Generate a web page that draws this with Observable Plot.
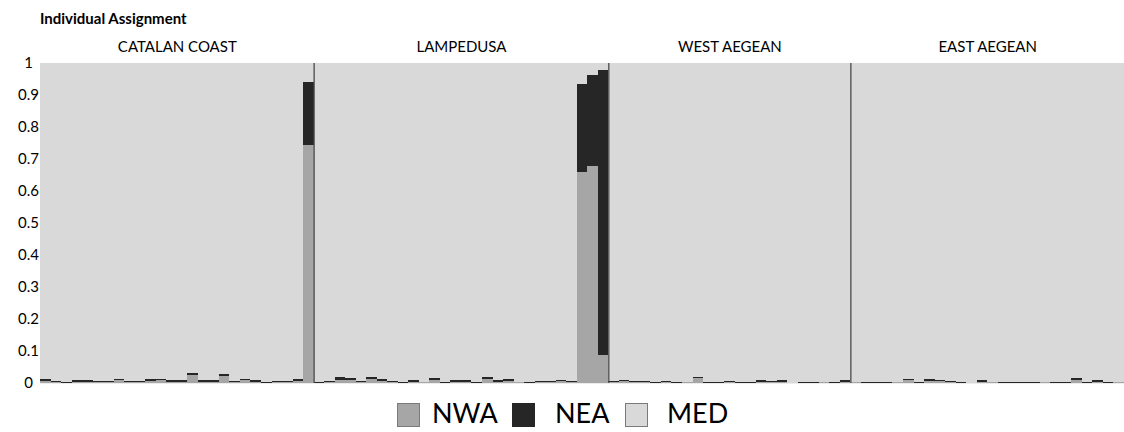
<!DOCTYPE html>
<html>
<head>
<meta charset="utf-8">
<script src="https://cdn.jsdelivr.net/npm/d3@7"></script>
<script src="https://cdn.jsdelivr.net/npm/@observablehq/plot@0.6"></script>
<style>
  html, body { margin: 0; padding: 0; background: #fff; }
  body { width: 1124px; height: 432px; position: relative; overflow: hidden; font-family: Lato, "Open Sans", sans-serif; }
  #title { position: absolute; left: 40px; top: 9px; font-size: 15px; font-weight: bold; color: #000; }
  #chart { position: absolute; left: 0; top: 0; }
  #legend { position: absolute; left: 0; top: 0; width: 1124px; height: 432px; pointer-events: none; }
  .sw { position: absolute; top: 403px; width: 21px; height: 22px; border: 1px solid #7a7a7a; }
  .lab { position: absolute; top: 397px; font-size: 27px; color: #000; line-height: 32px; }
</style>
</head>
<body>
<div id="chart"></div>
<div id="title">Individual Assignment</div>
<div id="legend">
  <div class="sw" style="left:397px; background:#a6a6a6;"></div>
  <div class="lab" style="left:432px;">NWA</div>
  <div class="sw" style="left:512px; background:#262626; border-color:#262626;"></div>
  <div class="lab" style="left:555px;">NEA</div>
  <div class="sw" style="left:625px; background:#d9d9d9;"></div>
  <div class="lab" style="left:667px;">MED</div>
</div>
<script>
// ---- Data (ancestry proportions per individual) ----
const populations = ["CATALAN COAST", "LAMPEDUSA", "WEST AEGEAN", "EAST AEGEAN"];
const clusters = ["NWA", "NEA", "MED"];
const clusterColors = ["#a6a6a6", "#262626", "#d9d9d9"];

const catalanNWA = [0.006,0.003,0.001,0.004,0.004,0.003,0.002,0.009,0.003,0.003,0.007,0.008,0.004,0.004,0.025,0.004,0.004,0.021,0.002,0.008,0.004,0.001,0.002,0.002,0.007,0.745];
const catalanNEA = [0.005,0.004,0.002,0.004,0.004,0.004,0.003,0.005,0.004,0.004,0.005,0.005,0.004,0.004,0.006,0.004,0.004,0.006,0.004,0.005,0.004,0.002,0.003,0.003,0.005,0.195];

const lampedusaNWA = [0.001,0.002,0.010,0.008,0.003,0.011,0.006,0.002,0.001,0.004,0.002,0.009,0.001,0.004,0.004,0.001,0.011,0.003,0.006,0.002,0.001,0.002,0.002,0.005,0.002,0.660,0.677,0.088];
const lampedusaNEA = [0.001,0.003,0.008,0.007,0.004,0.008,0.005,0.004,0.002,0.004,0.002,0.007,0.002,0.004,0.004,0.002,0.008,0.007,0.005,0.002,0.001,0.003,0.003,0.005,0.003,0.275,0.286,0.891];

const westAegeanNWA = [0.002,0.005,0.003,0.002,0.001,0.003,0.001,0.002,0.016,0.001,0.001,0.002,0.001,0.001,0.004,0.002,0.004,0.000,0.001,0.001,0.002,0.001,0.004];
const westAegeanNEA = [0.003,0.005,0.004,0.003,0.001,0.003,0.002,0.002,0.004,0.001,0.001,0.004,0.001,0.002,0.004,0.003,0.004,0.001,0.001,0.002,0.002,0.001,0.006];

const eastAegeanNWA = [0.002,0.001,0.001,0.001,0.002,0.009,0.001,0.005,0.005,0.003,0.001,0.000,0.004,0.002,0.001,0.001,0.001,0.001,0.002,0.001,0.001,0.010,0.001,0.003,0.001,0.002];
const eastAegeanNEA = [0.002,0.001,0.001,0.002,0.002,0.004,0.002,0.006,0.005,0.003,0.001,0.001,0.004,0.002,0.002,0.002,0.001,0.001,0.002,0.001,0.001,0.005,0.002,0.006,0.001,0.002];

const yTicks = [0, 0.1, 0.2, 0.3, 0.4, 0.5, 0.6, 0.7, 0.8, 0.9, 1];

// ---- Build table ----
const groups = [
  [catalanNWA, catalanNEA],
  [lampedusaNWA, lampedusaNEA],
  [westAegeanNWA, westAegeanNEA],
  [eastAegeanNWA, eastAegeanNEA]
];
const rows = [];
const labels = [];
const boundaries = [];
let idx = 0;
groups.forEach(([nwa, nea], g) => {
  const start = idx;
  nwa.forEach((a, i) => {
    const b = nea[i];
    const vals = [a, b, 1 - a - b];
    let base = 0;
    vals.forEach((v, k) => {
      rows.push({i: idx, pop: populations[g], cluster: clusters[k], y1: base, y2: base + v});
      base += v;
    });
    idx++;
  });
  labels.push({pop: populations[g], mid: (start + idx) / 2});
  if (g < groups.length - 1) boundaries.push(idx);
});
const N = idx;

const chart = Plot.plot({
  width: 1124,
  height: 392,
  marginLeft: 40,
  marginRight: 0,
  marginTop: 63,
  marginBottom: 9,
  style: {fontFamily: "Lato, 'Open Sans', sans-serif", background: "transparent", color: "#000"},
  x: {domain: [0, N], axis: null},
  y: {domain: [0, 1]},
  color: {domain: clusters, range: clusterColors},
  marks: [
    Plot.frame({fill: "#d9d9d9", stroke: null}),
    Plot.rect(rows, {x1: "i", x2: d => d.i + 1, y1: "y1", y2: "y2", fill: "cluster", shapeRendering: "crispEdges"}),
    Plot.ruleX(boundaries, {y1: 0, y2: 1, stroke: "#4a4a4a", strokeWidth: 1.3}),
    Plot.axisY(yTicks, {tickSize: 0, tickPadding: 12, textAnchor: "middle", tickFormat: d => String(d), fontSize: 15, fill: "#000", label: null}),
    Plot.text(labels, {x: "mid", y: 1, text: "pop", dy: -16, fontSize: 15, fill: "#000", lineAnchor: "middle"})
  ]
});
document.getElementById("chart").appendChild(chart);
</script>
</body>
</html>
